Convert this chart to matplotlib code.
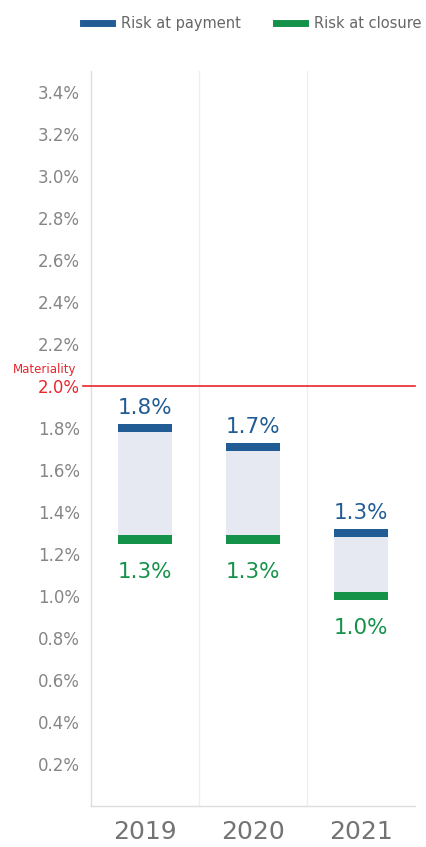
import matplotlib.pyplot as plt
from matplotlib.lines import Line2D

YEARS = ["2019", "2020", "2021"]
RISK_PAYMENT = [1.80, 1.71, 1.30]
RISK_CLOSURE = [1.27, 1.27, 1.00]
PAYMENT_LABELS = ["1.8%", "1.7%", "1.3%"]
CLOSURE_LABELS = ["1.3%", "1.3%", "1.0%"]
MATERIALITY = 2.0
YTICKS = [round(0.2 * i, 1) for i in range(1, 18)]

BLUE = "#225c95"
GREEN = "#14924a"
FILL = "#e7e9f2"
RED = "#e8262c"
GREY = "#858585"

plt.rcParams["font.family"] = ["DejaVu Sans"]

fig = plt.figure(figsize=(4.26, 8.47), dpi=100)
ax = fig.add_axes([0.2136, 0.0484, 0.7604, 0.8676])

x = list(range(len(YEARS)))
width = 0.5
thick = 0.04
for i in x:
    lo, hi = RISK_CLOSURE[i], RISK_PAYMENT[i]
    ax.bar(i, hi - lo, bottom=lo, width=width, color=FILL, zorder=2)
    ax.bar(i, thick, bottom=hi - thick / 2, width=width, color=BLUE, zorder=3)
    ax.bar(i, thick, bottom=lo - thick / 2, width=width, color=GREEN, zorder=3)
    ax.annotate(PAYMENT_LABELS[i], (i, hi), xytext=(0, 7), textcoords="offset points",
                ha="center", va="bottom", color=BLUE, fontsize=15.5)
    ax.annotate(CLOSURE_LABELS[i], (i, lo), xytext=(0, -16), textcoords="offset points",
                ha="center", va="top", color=GREEN, fontsize=15.5)

ax.axhline(MATERIALITY, xmin=-0.025, xmax=1, color=RED, lw=1.2, clip_on=False, zorder=4)
ax.text(-0.045, MATERIALITY + 0.05, "Materiality", transform=ax.get_yaxis_transform(),
        ha="right", va="bottom", color=RED, fontsize=8.5)

ax.set_xlim(-0.5, 2.5)
ax.set_ylim(0, 3.5)
ax.set_yticks(YTICKS)
ax.set_yticklabels([f"{v:.1f}%" for v in YTICKS])
ax.set_xticks(x)
ax.set_xticklabels(YEARS)
ax.tick_params(axis="y", length=0, pad=8, labelsize=12, labelcolor=GREY)
ax.tick_params(axis="x", length=0, pad=10, labelsize=18, labelcolor="#737373")
for lbl, v in zip(ax.get_yticklabels(), YTICKS):
    if abs(v - MATERIALITY) < 1e-9:
        lbl.set_color(RED)

for xv in [0.5, 1.5]:
    ax.axvline(xv, color="#eeeeee", lw=0.9, zorder=0)
for side in ["top", "right"]:
    ax.spines[side].set_visible(False)
for side in ["left", "bottom"]:
    ax.spines[side].set_color("#dddddd")
    ax.spines[side].set_linewidth(1.0)

handles = [Line2D([], [], color=BLUE, lw=5), Line2D([], [], color=GREEN, lw=5)]
fig.legend(handles, ["Risk at payment", "Risk at closure"], loc="upper right",
           bbox_to_anchor=(1.02, 0.997), ncol=2, frameon=False, fontsize=10.5,
           handlelength=2.0, handletextpad=0.6, columnspacing=2.4, labelcolor="#666666")

fig.savefig("out.png", dpi=100, facecolor="white")
